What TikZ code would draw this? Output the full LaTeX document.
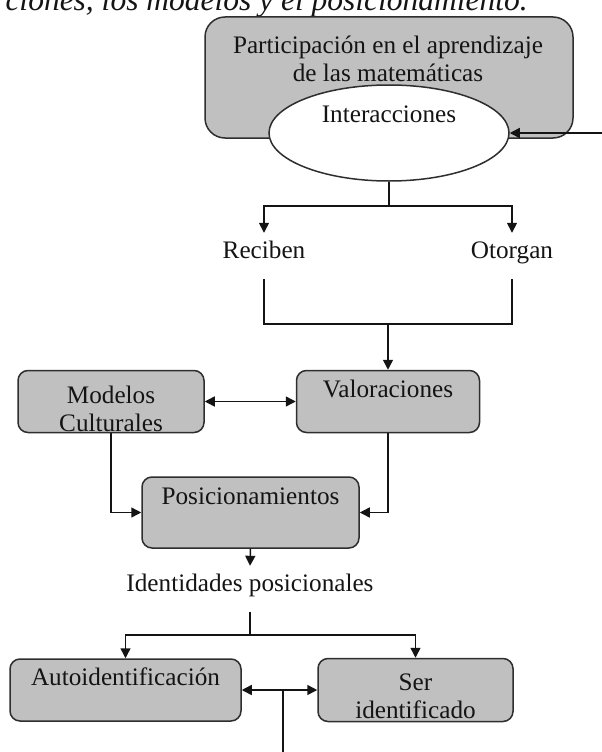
\documentclass[tikz,border=0pt]{standalone}
\usepackage{fontspec}
\setmainfont{Liberation Serif}
\usetikzlibrary{arrows.meta,shapes.geometric}
\definecolor{boxfill}{HTML}{C0C0C0}
\definecolor{edge}{HTML}{2E2E2E}
\definecolor{ink}{HTML}{141414}

\begin{document}
\begin{tikzpicture}[x=1pt, y=-1pt,
  font=\fontsize{25.2}{28}\selectfont,
  box/.style={draw=edge, line width=1.5pt, fill=boxfill, rounded corners=10pt,
              inner sep=0pt},
  txt/.style={inner sep=0pt, text=ink, align=center},
  word/.style={inner sep=0pt, text=ink, text height=0.7em, text depth=0.25em},
  link/.style={draw=ink, line width=1.5pt},
  tip/.tip={Triangle[length=10pt,width=10pt]},
  arr/.style={link, -tip},
  darr/.style={link, tip-tip},
]
\useasboundingbox (0,0) rectangle (602,752);

% caption line running off the top edge
\node[anchor=base east, inner sep=0pt, text=ink,
      font=\fontsize{31.5}{34}\selectfont\itshape] (cap) at (528,11)
      {ciones, los modelos y el posicionamiento.};

% participation frame with the interactions ellipse
\node[box, rounded corners=20pt, minimum width=368pt, minimum height=121pt]
      (part) at (389,77.5) {};
\node[txt] (partt) at (388,58.5) {Participación en el aprendizaje\\de las matemáticas};
\node[draw=edge, line width=1.5pt, fill=white, ellipse, inner sep=0pt,
      minimum width=240pt, minimum height=96pt] (inter) at (389,133) {};
\node[word] (intert) at (389,120) {Interacciones};

% receive / grant
\node[word, minimum height=46pt] (rec) at (264,256) {Reciben};
\node[word, minimum height=46pt] (oto) at (512,256) {Otorgan};

% cultural models, valuations, positionings
\node[box, minimum width=186pt, minimum height=62pt] (model) at (111,401.5) {};
\node[txt] (modelt) at (111,409) {Modelos\\Culturales};
\node[box, minimum width=183pt, minimum height=62pt] (valor) at (388,401.5) {};
\node[word] (valort) at (388,395) {Valoraciones};
\node[box, minimum width=217pt, minimum height=71pt] (posic) at (250.5,512.5) {};
\node[word] (posict) at (250.5,502) {Posicionamientos};

\node[word, minimum height=46pt] (ident) at (250,589) {Identidades posicionales};

% self identification / being identified
\node[box, minimum width=231pt, minimum height=62pt] (auto) at (125.5,690) {};
\node[word] (autot) at (125.5,683) {Autoidentificación};
\node[box, minimum width=195pt, minimum height=63pt] (ser) at (415.5,690) {};
\node[txt] (sert) at (415.5,696.5) {Ser\\identificado};

% junction points and free ends
\coordinate (rin) at (602,133);
\coordinate (split1) at (389,206);
\coordinate (join) at (388,324);
\coordinate (split2) at (250,635);
\coordinate (split3) at (283,690);
\coordinate (bot) at (283,752);

% connectors
\draw[arr] (rin) -- (inter.east);
\draw[link] (inter.south) -- (split1);
\draw[arr] (split1) -| (rec.north);
\draw[arr] (split1) -| (oto.north);
\draw[link] (rec.south) |- (join) -| (oto.south);
\draw[arr] (join) -- (valor.north);
\draw[darr] (model.east) -- (valor.west);
\draw[arr] (model.south) |- (posic.west);
\draw[arr] (valor.south) |- (posic.east);
\draw[arr] (posic.south) -- (ident.north);
\draw[link] (ident.south) -- (split2);
\draw[arr] (split2) -| (auto.north);
\draw[arr] (split2) -| (ser.north);
\draw[link] (bot) -- (split3);
\draw[arr] (split3) -- (auto.east);
\draw[arr] (split3) -- (ser.west);
\end{tikzpicture}
\end{document}
